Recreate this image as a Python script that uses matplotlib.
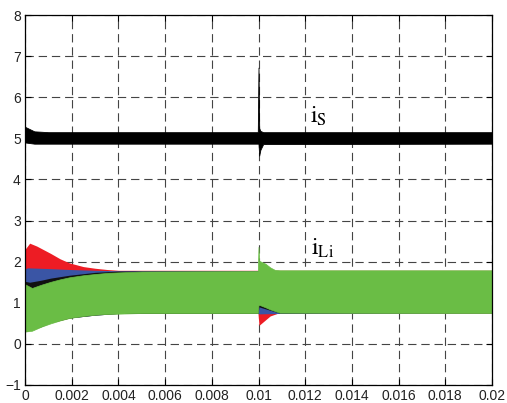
import numpy as np
import matplotlib.pyplot as plt

plt.rcParams['font.family'] = ['Liberation Sans', 'DejaVu Sans']
plt.rcParams['mathtext.fontset'] = 'stix'
plt.rcParams['lines.scale_dashes'] = False

# envelope of source current i_S (black band)
t_is = [0, 0.0004, 0.001, 0.00997, 0.01, 0.01003, 0.01008, 0.0102, 0.02]
is_hi = [5.28, 5.17, 5.15, 5.15, 6.72, 5.25, 5.18, 5.15, 5.15]
is_lo = [4.90, 4.87, 4.87, 4.87, 4.87, 4.58, 4.72, 4.86, 4.87]

# envelopes of the load currents i_Li (red, blue, black, green)
t_red = [0, 0.0002, 0.0005, 0.0011, 0.0015, 0.0019, 0.0025, 0.003, 0.0035, 0.004,
         0.00998, 0.01002, 0.0105, 0.0108, 0.02]
red_hi = [2.30, 2.45, 2.38, 2.20, 2.07, 1.97, 1.88, 1.84, 1.81, 1.79,
          1.79, 1.79, 1.79, 1.79, 1.79]
red_lo = [0.30, 0.33, 0.40, 0.52, 0.57, 0.63, 0.68, 0.71, 0.73, 0.74,
          0.74, 0.45, 0.68, 0.74, 0.74]

t_blue = [0, 0.0001, 0.0011, 0.0019, 0.003, 0.004, 0.00998, 0.01002, 0.0109, 0.02]
blue_hi = [1.82, 1.85, 1.83, 1.81, 1.79, 1.78, 1.78, 1.78, 1.78, 1.78]
blue_lo = [0.30, 0.33, 0.52, 0.63, 0.70, 0.74, 0.74, 0.73, 0.74, 0.75]

t_blk = [0, 0.0002, 0.0007, 0.0011, 0.0019, 0.003, 0.004, 0.00998, 0.01002, 0.0109, 0.02]
blk_hi = [1.52, 1.50, 1.55, 1.60, 1.67, 1.74, 1.77, 1.77, 1.77, 1.77, 1.77]
blk_lo = [0.30, 0.33, 0.42, 0.52, 0.63, 0.70, 0.74, 0.74, 0.90, 0.75, 0.76]

t_grn = [0, 0.0003, 0.0007, 0.0011, 0.0015, 0.0019, 0.0025, 0.003, 0.0036, 0.005,
         0.00997, 0.01, 0.01003, 0.0103, 0.0105, 0.0107, 0.0109, 0.02]
grn_hi = [1.45, 1.36, 1.44, 1.51, 1.57, 1.62, 1.67, 1.70, 1.73, 1.76,
          1.77, 2.36, 2.02, 1.95, 1.86, 1.80, 1.79, 1.79]
grn_lo = [0.30, 0.32, 0.42, 0.50, 0.57, 0.63, 0.68, 0.71, 0.73, 0.75,
          0.75, 0.95, 0.95, 0.89, 0.84, 0.80, 0.76, 0.75]

fig = plt.figure(figsize=(5.07, 4.03), dpi=100)
ax = fig.add_axes([25/507, 18/403, 467/507, 370/403])
ax.set_axisbelow(True)

ax.fill_between(t_is, is_lo, is_hi, color='black', lw=0.6)
ax.fill_between(t_red, red_lo, red_hi, color='#ed1c24', lw=0)
ax.fill_between(t_blue, blue_lo, blue_hi, color='#3a55a5', lw=0)
ax.fill_between(t_blk, blk_lo, blk_hi, color='#111111', lw=0)
ax.fill_between(t_grn, grn_lo, grn_hi, color='#6abd45', lw=0.5, edgecolor='#6abd45')

ax.text(0.0122, 5.37, r'$\mathrm{i_S}$', fontsize=17)
ax.text(0.01225, 2.16, r'$\mathrm{i_{Li}}$', fontsize=17)

ax.set_xlim(0, 0.02)
ax.set_ylim(-1, 8)
xt = [0, 0.002, 0.004, 0.006, 0.008, 0.01, 0.012, 0.014, 0.016, 0.018, 0.02]
xl = ['0', '0.002', '0.004', '0.006', '0.008', '0.01', '0.012', '0.014', '0.016', '0.018', '0.02']
ax.set_xticks(xt)
ax.set_xticklabels(xl)
ax.set_yticks(range(-1, 9))
ax.grid(True, color='#444444', lw=0.8, linestyle=(0, (6, 3.5)))
ax.tick_params(direction='in', top=True, right=True, length=4, labelsize=10,
               labelcolor='#222222', pad=3)
for s in ax.spines.values():
    s.set_linewidth(0.9)

fig.savefig('out.png', dpi=100)
